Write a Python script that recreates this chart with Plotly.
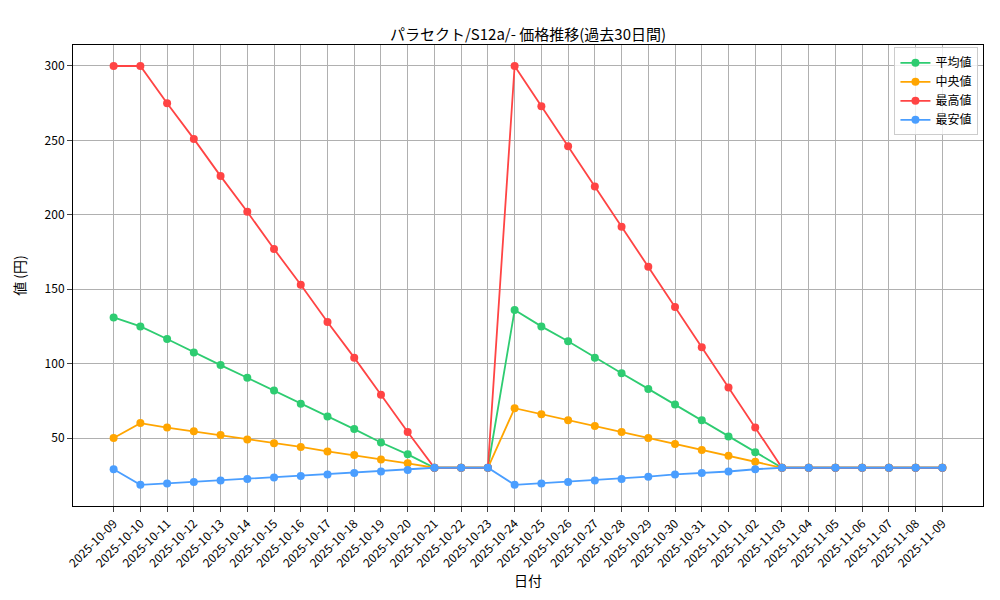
import plotly.graph_objects as go
import pandas as pd

dates = [d.strftime("%Y-%m-%d") for d in pd.date_range("2025-10-09", "2025-11-09")]
mean_v = [131,125,116.5,107.5,99,90.5,82,73,64.5,56,47,39,30,30,30,136,125,115,104,93.5,83,72.5,62,51,40.5,30,30,30,30,30,30,30]
median_v = [50,60,57,54.5,52,49,46.5,44,41,38.5,35.5,33,30,30,30,70,66,62,58,54,50,46,42,38,34,30,30,30,30,30,30,30]
max_v = [300,300,275,251,226,202,177,153,128,104,79,54,30,30,30,300,273,246,219,192,165,138,111,84,57,30,30,30,30,30,30,30]
min_v = [29,18.5,19.5,20.5,21.5,22.5,23.5,24.5,25.5,26.5,27.5,28.5,30,30,30,18.5,19.5,20.5,21.5,22.5,24,25.5,26.5,27.5,29,30,30,30,30,30,30,30]

series = [("平均値", mean_v, "#2ecc71"), ("中央値", median_v, "#ffa500"),
          ("最高値", max_v, "#ff4444"), ("最安値", min_v, "#4a9eff")]
xs = list(range(len(dates)))
fig = go.Figure()
for name, vals, c in series:
    fig.add_trace(go.Scatter(x=xs, y=vals, name=name, mode="lines+markers",
                             line=dict(color=c, width=1.8), marker=dict(size=8, color=c)))
font = "Noto Sans CJK JP"
fig.update_layout(
    width=1000, height=600, paper_bgcolor="white", plot_bgcolor="white",
    margin=dict(l=65, r=25, t=37, b=102),
    font=dict(family=font, size=12, color="black"),
    title=dict(text="パラセクト/S12a/- 価格推移(過去30日間)", x=0.52, y=0.965, xanchor="center", font=dict(size=15)),
    legend=dict(x=0.995, y=0.995, xanchor="right", yanchor="top", bordercolor="#cccccc", borderwidth=1,
                bgcolor="rgba(255,255,255,0.8)"),
    showlegend=True,
)
fig.update_xaxes(tickmode="array", tickvals=xs, ticktext=dates, tickangle=-45, range=[-1.52, 32.52],
                 showgrid=True, gridcolor="#b0b0b0", showline=True, mirror=True, linecolor="black",
                 ticks="outside", title=dict(text="日付", standoff=5), zeroline=False)
fig.update_yaxes(range=[4.3, 314.1], tickvals=[50,100,150,200,250,300], showgrid=True, gridcolor="#b0b0b0",
                 showline=True, mirror=True, linecolor="black", ticks="outside",
                 title=dict(text="値 (円)"), zeroline=False)
fig.write_html("out.html")
